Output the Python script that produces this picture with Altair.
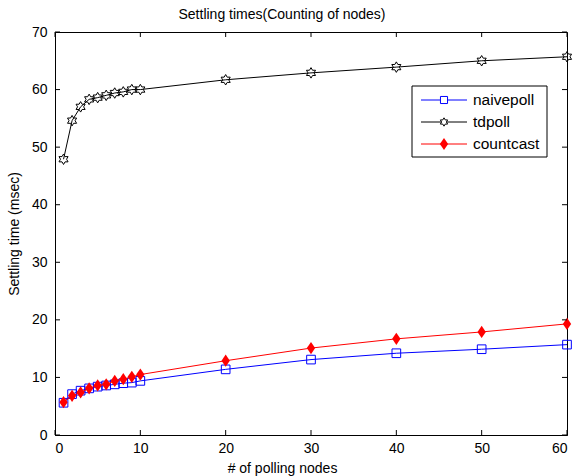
import altair as alt
import pandas as pd

# Number of polling nodes
nodes = [1, 2, 3, 4, 5, 6, 7, 8, 9, 10, 20, 30, 40, 50, 60]

# Settling time (msec) per scheme
naivepoll = [5.6, 7.1, 7.7, 8.1, 8.4, 8.6, 8.8, 9.0, 9.1, 9.4, 11.4, 13.1, 14.2, 14.9, 15.7]
tdpoll = [47.9, 54.6, 57.0, 58.3, 58.6, 59.0, 59.4, 59.6, 60.0, 60.0, 61.7, 62.9, 63.9, 65.0, 65.7]
countcast = [5.7, 6.8, 7.4, 8.1, 8.6, 8.8, 9.4, 9.7, 10.1, 10.5, 12.9, 15.1, 16.7, 17.9, 19.3]

series = ["naivepoll", "tdpoll", "countcast"]
x_ticks = [0, 10, 20, 30, 40, 50, 60]
y_ticks = [0, 10, 20, 30, 40, 50, 60, 70]

W, H = 512, 403
FONT = "Liberation Sans"

# six-pointed star (hexagram) outline
HEXAGRAM = ("M0,-1L0.289,-0.5L0.866,-0.5L0.577,0L0.866,0.5L0.289,0.5L0,1"
            "L-0.289,0.5L-0.866,0.5L-0.577,0L-0.866,-0.5L-0.289,-0.5Z")
DIAMOND = "M0,-1L0.68,0L0,1L-0.68,0Z"

styles = {
    "naivepoll": dict(color="#0000ff", shape="square", size=75, filled=False),
    "tdpoll": dict(color="#000000", shape=HEXAGRAM, size=110, filled=False),
    "countcast": dict(color="#ff0000", shape=DIAMOND, size=150, filled=True),
}

df = pd.DataFrame({
    "nodes": nodes * 3,
    "time": naivepoll + tdpoll + countcast,
    "scheme": sum([[s] * len(nodes) for s in series], []),
})

xs = alt.Scale(domain=[0, 60], nice=False)
ys = alt.Scale(domain=[0, 70], nice=False)

x_axis = alt.Axis(values=x_ticks, tickSize=0, labelPadding=6, grid=False,
                  title="# of polling nodes", titleX=227, titlePadding=6,
                  titleFontWeight="normal")
y_axis = alt.Axis(values=y_ticks, tickSize=0, labelPadding=8, grid=False,
                  title="Settling time (msec)", titlePadding=10,
                  titleFontWeight="normal")

layers = []
for s in series:
    st = styles[s]
    sub = df[df.scheme == s]
    base = alt.Chart(sub).encode(
        x=alt.X("nodes:Q", scale=xs, axis=x_axis),
        y=alt.Y("time:Q", scale=ys, axis=y_axis),
    )
    layers.append(base.mark_line(color=st["color"], strokeWidth=1))
    layers.append(base.mark_point(
        shape=st["shape"], size=st["size"], filled=st["filled"],
        color=st["color"], strokeWidth=1,
        fill=st["color"] if st["filled"] else "transparent", opacity=1,
    ))

# inward tick marks on all four sides
xt = alt.Chart(pd.DataFrame({"t": x_ticks}))
yt = alt.Chart(pd.DataFrame({"t": y_ticks}))
tick_style = dict(color="black", strokeWidth=1)
layers += [
    xt.mark_rule(**tick_style).encode(x=alt.X("t:Q", scale=xs, axis=x_axis), y=alt.value(H), y2=alt.value(H - 5)),
    xt.mark_rule(**tick_style).encode(x=alt.X("t:Q", scale=xs, axis=x_axis), y=alt.value(0), y2=alt.value(5)),
    yt.mark_rule(**tick_style).encode(y=alt.Y("t:Q", scale=ys, axis=y_axis), x=alt.value(0), x2=alt.value(5)),
    yt.mark_rule(**tick_style).encode(y=alt.Y("t:Q", scale=ys, axis=y_axis), x=alt.value(W), x2=alt.value(W - 5)),
]

# legend box
one = alt.Chart(pd.DataFrame({"k": [0]}))
layers.append(one.mark_rect(fill="white", stroke="black", strokeWidth=1).encode(
    x=alt.value(357), x2=alt.value(492), y=alt.value(54), y2=alt.value(125)))

leg_y = [68, 90, 112]
leg_sizes = {"naivepoll": 50, "tdpoll": 70, "countcast": 150}
for s, ly in zip(series, leg_y):
    st = styles[s]
    row = alt.Chart(pd.DataFrame({"label": [s]}))
    layers.append(row.mark_rule(color=st["color"], strokeWidth=1).encode(
        x=alt.value(366), x2=alt.value(412), y=alt.value(ly)))
    layers.append(row.mark_point(
        shape=st["shape"], size=leg_sizes[s], filled=st["filled"], color=st["color"],
        fill=st["color"] if st["filled"] else "white", opacity=1, strokeWidth=1,
    ).encode(x=alt.value(389), y=alt.value(ly)))
    layers.append(row.mark_text(align="left", baseline="middle", font=FONT,
                                fontSize=15.5, color="black").encode(
        x=alt.value(418), y=alt.value(ly), text="label:N"))

chart = alt.layer(*layers).properties(
    width=W,
    height=H,
    title=alt.TitleParams("Settling times(Counting of nodes)", anchor="middle",
                          dx=-29, dy=7, offset=10, fontSize=14, fontWeight="normal",
                          font=FONT, color="black"),
    autosize=alt.AutoSizeParams(type="none"),
    padding={"left": 55, "top": 32, "right": 9, "bottom": 41},
).configure(
    background="white"
).configure_view(
    stroke="black", strokeWidth=1
).configure_axis(
    domainColor="black", domainWidth=1, labelFont=FONT, titleFont=FONT,
    labelFontSize=14, titleFontSize=14, labelColor="black", titleColor="black",
)

chart.save("out.html", embed_options={"renderer": "svg", "actions": False})
